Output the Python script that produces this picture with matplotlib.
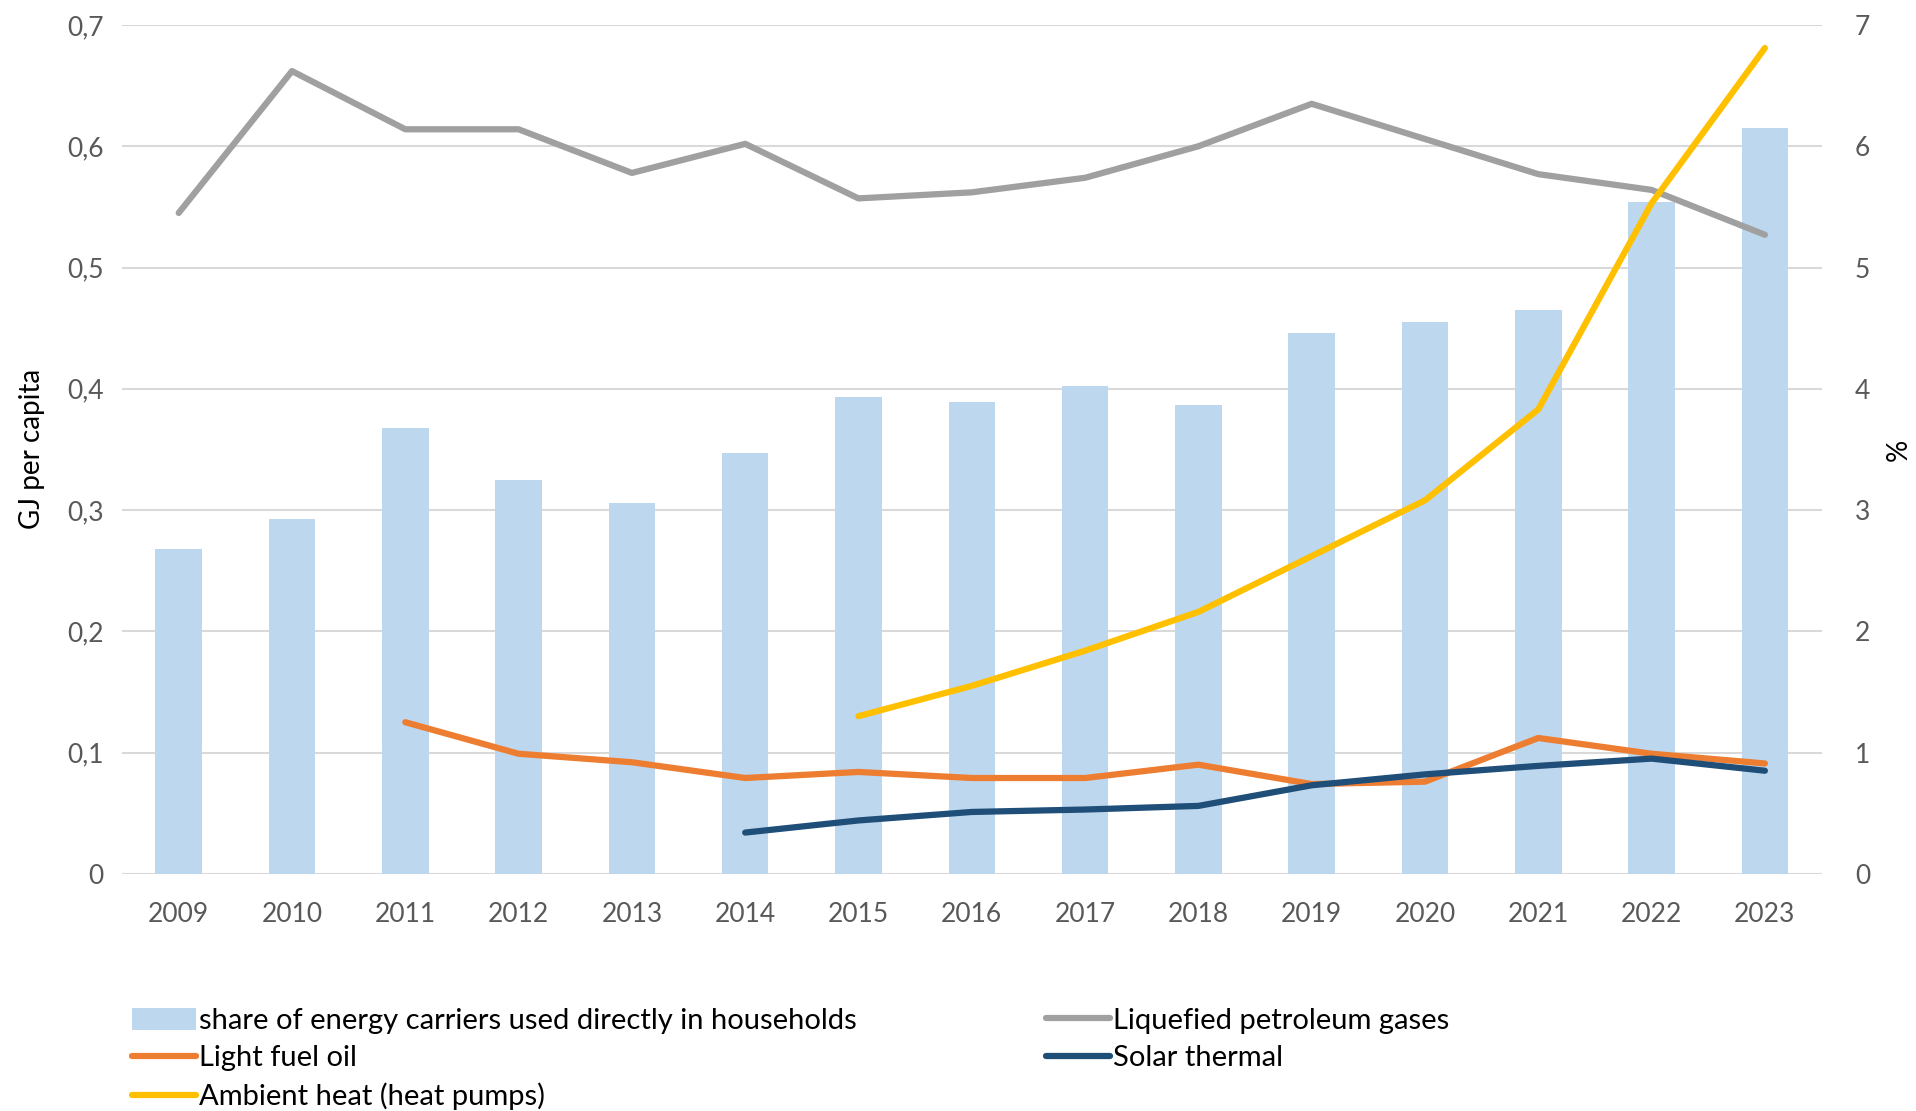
import matplotlib.pyplot as plt
import numpy as np

years = ['2009', '2010', '2011', '2012', '2013', '2014', '2015', '2016',
         '2017', '2018', '2019', '2020', '2021', '2022', '2023']

# share of energy carriers used directly in households (%), right axis
share = [2.68, 2.93, 3.68, 3.25, 3.06, 3.47, 3.93, 3.89, 4.02, 3.87,
         4.46, 4.55, 4.65, 5.54, 6.15]

# GJ per capita, left axis
lpg = [0.545, 0.662, 0.614, 0.614, 0.578, 0.602, 0.557, 0.562, 0.574, 0.600,
       0.635, 0.606, 0.577, 0.564, 0.527]
fuel_oil = [np.nan, np.nan, 0.125, 0.099, 0.092, 0.079, 0.084, 0.079, 0.079, 0.090,
            0.074, 0.076, 0.112, 0.099, 0.091]
solar = [np.nan, np.nan, np.nan, np.nan, np.nan, 0.034, 0.044, 0.051, 0.053, 0.056,
         0.073, 0.082, 0.089, 0.095, 0.085]
ambient = [np.nan, np.nan, np.nan, np.nan, np.nan, np.nan, 0.130, 0.155, 0.184, 0.216,
           0.262, 0.308, 0.383, 0.553, 0.681]

left_ticks = [0, 0.1, 0.2, 0.3, 0.4, 0.5, 0.6, 0.7]
left_labels = ['0', '0,1', '0,2', '0,3', '0,4', '0,5', '0,6', '0,7']
right_ticks = [0, 1, 2, 3, 4, 5, 6, 7]


def main():
    plt.rcParams['font.family'] = ['Lato', 'DejaVu Sans']
    fig = plt.figure(figsize=(19.16, 11.11), dpi=100)
    ax = fig.add_axes([0.0637, 0.2135, 0.887, 0.764])
    ax2 = ax.twinx()
    ax.set_zorder(ax2.get_zorder() + 1)
    ax.patch.set_visible(False)

    x = np.arange(len(years))
    bars = ax2.bar(x, share, width=0.41, color='#BDD7EE', zorder=2,
                   label='share of energy carriers used directly in households')
    ax2.set_ylim(0, 7)
    ax2.set_yticks(right_ticks)
    ax2.grid(axis='y', color='#D9D9D9', linewidth=1.5, zorder=0)
    ax2.set_axisbelow(True)

    kw = dict(linewidth=4.5, solid_capstyle='round', solid_joinstyle='round')
    l_lpg, = ax.plot(x, lpg, color='#A0A0A0', label='Liquefied petroleum gases', **kw)
    l_oil, = ax.plot(x, fuel_oil, color='#ED7D31', label='Light fuel oil', **kw)
    l_sol, = ax.plot(x, solar, color='#1F4E79', label='Solar thermal', **kw)
    l_amb, = ax.plot(x, ambient, color='#FFC000', label='Ambient heat (heat pumps)', **kw)

    ax.set_ylim(0, 0.7)
    ax.set_yticks(left_ticks)
    ax.set_yticklabels(left_labels)
    ax.set_xlim(-0.5, 14.5)
    ax.set_xticks(x)
    ax.set_xticklabels(years)

    for a in (ax, ax2):
        for s in a.spines.values():
            s.set_visible(False)
        a.tick_params(length=0, labelsize=19, labelcolor='#595959')
    ax.tick_params(axis='x', pad=20)
    ax.tick_params(axis='y', pad=13)
    ax2.tick_params(axis='y', pad=24)

    ax.set_ylabel('GJ per capita', fontsize=20, labelpad=16)
    ax2.set_ylabel('%', fontsize=20, labelpad=11)

    handles = [bars, l_oil, l_amb, l_lpg, l_sol]
    fig.legend(handles=handles, labels=[h.get_label() for h in handles],
               ncol=2, loc='lower left', bbox_to_anchor=(0.0596, -0.015),
               frameon=False, fontsize=21, handlelength=2.2, handleheight=0.8,
               handletextpad=0.1, labelspacing=0.38, columnspacing=6.5,
               borderaxespad=0.2)

    fig.savefig('out.png', dpi=100)


if __name__ == '__main__':
    main()
